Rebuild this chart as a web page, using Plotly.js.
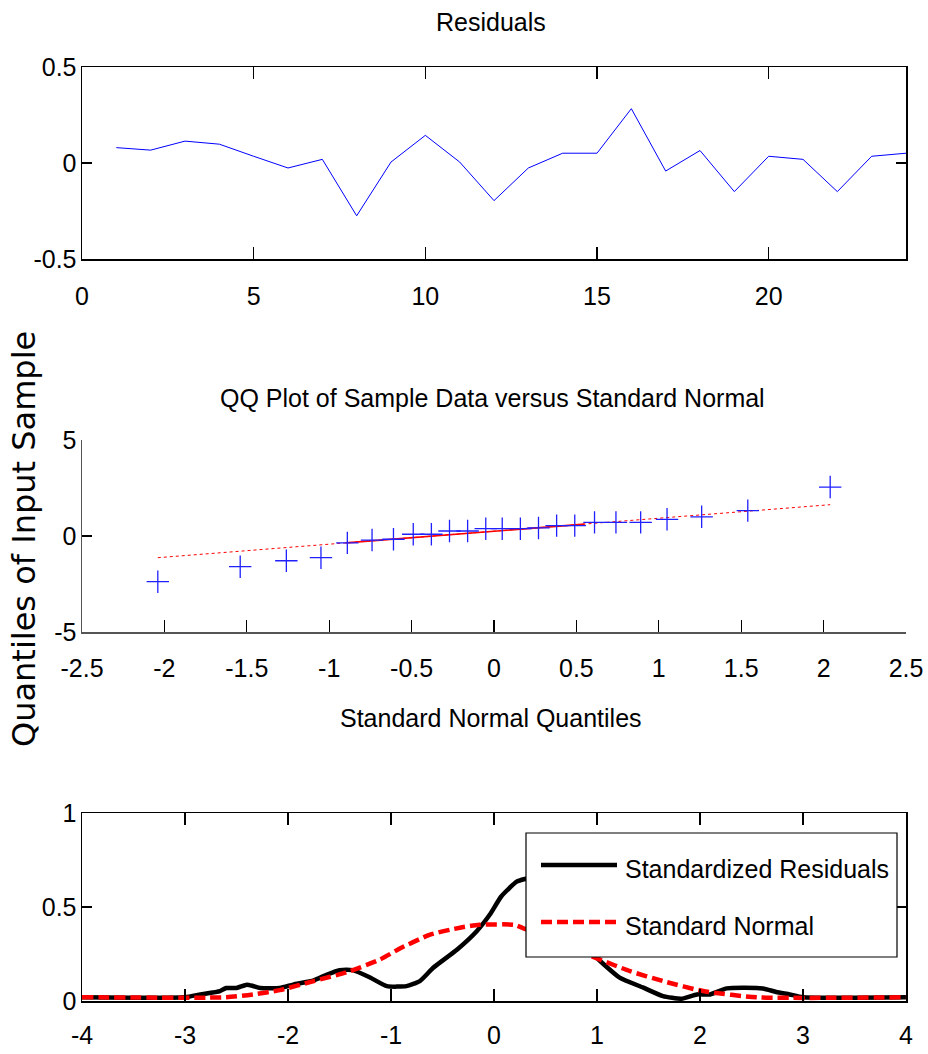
<!DOCTYPE html>
<html>
<head>
<meta charset="utf-8">
<script src="https://cdn.plot.ly/plotly-3.0.1.min.js"></script>
<style>html,body{margin:0;padding:0;background:#fff;}#chart{width:928px;height:1054px;}</style>
</head>
<body>
<div id="chart"></div>
<script>
// ---- Residuals (top panel)
const residIdx = [1,2,3,4,5,6,7,8,9,10,11,12,13,14,15,16,17,18,19,20,21,22,23,24];
const residVal = [0.08,0.067,0.114,0.098,0.035,-0.026,0.019,-0.275,0.005,0.144,0.005,-0.196,-0.026,0.051,0.051,0.283,-0.042,0.065,-0.149,0.035,0.019,-0.149,0.035,0.051];
const topXTicks = [0,5,10,15,20];
const topYTicks = [-0.5,0,0.5];
const topYText = ['-0.5','0','0.5'];

// ---- QQ plot (middle panel)
const qqX = [-2.04,-1.54,-1.26,-1.05,-0.89,-0.74,-0.61,-0.49,-0.38,-0.27,-0.16,-0.05,0.05,0.16,0.27,0.38,0.49,0.61,0.74,0.89,1.05,1.26,1.54,2.04];
const qqY = [-2.38,-1.6,-1.29,-1.13,-0.36,-0.21,-0.17,0.09,0.09,0.26,0.26,0.38,0.38,0.38,0.42,0.54,0.54,0.71,0.71,0.71,0.87,1.0,1.32,2.55];
const qqLineX = [-2.04, 2.04];
const qqLineY = [-1.13, 1.63];
const qqMidX = [-0.9, 0.55];
const qqMidY = [-0.36, 0.62];
const qqXTicks = [-2.5,-2,-1.5,-1,-0.5,0,0.5,1,1.5,2,2.5];
const qqXText = ['-2.5','-2','-1.5','-1','-0.5','0','0.5','1','1.5','2','2.5'];
const qqYTicks = [-5,0,5];
const qqYText = ['-5','0','5'];

// ---- Densities (bottom panel)
const kdeX = [-4,-3.0,-2.85,-2.66,-2.6,-2.5,-2.4,-2.34,-2.27,-2.08,-1.95,-1.75,-1.62,-1.5,-1.37,-1.2,-1.04,-0.85,-0.72,-0.59,-0.36,-0.17,-0.04,0.07,0.22,0.3,0.4,0.5,0.6,0.7,0.8,0.9,1.0,1.22,1.45,1.64,1.82,1.97,2.1,2.26,2.61,2.74,2.87,3.0,4];
const kdeY = [0.02,0.02,0.035,0.053,0.069,0.069,0.087,0.08,0.069,0.069,0.087,0.11,0.141,0.164,0.164,0.124,0.079,0.079,0.106,0.177,0.273,0.37,0.46,0.556,0.635,0.649,0.66,0.66,0.62,0.53,0.42,0.32,0.23,0.124,0.071,0.026,0.012,0.035,0.035,0.067,0.067,0.048,0.035,0.02,0.02];
const normX = [-4,-2.6,-2.34,-2.08,-1.75,-1.43,-1.11,-0.91,-0.62,-0.33,-0.14,0.2,0.28,0.5,0.75,1.03,1.32,1.64,2.03,2.55,4];
const normY = [0.02,0.02,0.035,0.058,0.106,0.153,0.22,0.28,0.353,0.39,0.405,0.405,0.388,0.34,0.28,0.22,0.159,0.106,0.053,0.02,0.02];
const botXTicks = [-4,-3,-2,-1,0,1,2,3,4];
const botXText = ['-4','-3','-2','-1','0','1','2','3','4'];
const botYTicks = [0,0.5,1];
const botYText = ['0','0.5','1'];

// ---- Text
const topTitle = 'Residuals';
const qqTitle = 'QQ Plot of Sample Data versus Standard Normal';
const qqXLabel = 'Standard Normal Quantiles';
const qqYLabel = 'Quantiles of Input Sample';
const legendNames = ['Standardized Residuals', 'Standard Normal'];

const FONT = "'Liberation Sans', Arial, sans-serif";
const FS = 25;

const traces = [
  {x: residIdx, y: residVal, type: 'scatter', mode: 'lines', line: {color: '#0000ff', width: 1}, xaxis: 'x', yaxis: 'y', showlegend: false, hoverinfo: 'skip'},
  {x: qqLineX, y: qqLineY, type: 'scatter', mode: 'lines', line: {color: '#ff0000', width: 1, dash: 'dot'}, xaxis: 'x2', yaxis: 'y2', showlegend: false},
  {x: qqMidX, y: qqMidY, type: 'scatter', mode: 'lines', line: {color: '#ff0000', width: 1.6}, xaxis: 'x2', yaxis: 'y2', showlegend: false},
  {x: qqX, y: qqY, type: 'scatter', mode: 'markers', marker: {symbol: 'cross-thin', size: 16, color: '#0000ff', line: {color: '#2020ff', width: 1.3}}, xaxis: 'x2', yaxis: 'y2', showlegend: false},
  {x: kdeX, y: kdeY, type: 'scatter', mode: 'lines', name: legendNames[0], line: {color: '#000000', width: 4.5, shape: 'spline', smoothing: 0.5}, xaxis: 'x3', yaxis: 'y3', showlegend: false},
  {x: normX, y: normY, type: 'scatter', mode: 'lines', name: legendNames[1], line: {color: '#ff0000', width: 4.5, dash: '11px,5px', shape: 'spline', smoothing: 0.6}, xaxis: 'x3', yaxis: 'y3', showlegend: false}
];

const PX0 = 82, PX1 = 906, PT = 67, PB = 1001;
const W = PX1 - PX0, H = PB - PT;
const px = v => (v - PX0) / W;
const py = v => (PB - v) / H;

const axBase = {
  showgrid: false, zeroline: false, showline: true, linecolor: '#000', linewidth: 1.5,
  ticks: 'inside', ticklen: 12, tickcolor: '#000', tickwidth: 1.2,
  tickfont: {family: FONT, size: FS, color: '#000'}, fixedrange: true
};

const layout = {
  width: 928, height: 1054,
  margin: {l: PX0, r: 928 - PX1, t: PT, b: 1054 - PB},
  paper_bgcolor: '#fff', plot_bgcolor: '#fff',
  showlegend: false,
  font: {family: FONT, size: FS, color: '#000'},
  xaxis: Object.assign({}, axBase, {domain: [0, 1], anchor: 'y', range: [0, 24], tickvals: topXTicks, mirror: 'ticks', ticklabelstandoff: 14}),
  yaxis: Object.assign({}, axBase, {domain: [py(259), 1], anchor: 'x', range: [-0.5, 0.5], tickvals: topYTicks, ticktext: topYText, ticklen: 10, mirror: 'ticks', ticklabelstandoff: -1}),
  xaxis2: Object.assign({}, axBase, {domain: [0, 1], anchor: 'y2', range: [-2.5, 2.5], tickvals: qqXTicks, ticktext: qqXText, linecolor: '#555', ticklabelstandoff: 13}),
  yaxis2: Object.assign({}, axBase, {domain: [py(632), py(440)], anchor: 'x2', range: [-5, 5], tickvals: qqYTicks, ticktext: qqYText, ticklen: 10, linecolor: '#555', ticklabelstandoff: -1}),
  xaxis3: Object.assign({}, axBase, {domain: [0, 1], anchor: 'y3', range: [-4, 4], tickvals: botXTicks, ticktext: botXText, mirror: 'ticks', ticklabelstandoff: 11}),
  yaxis3: Object.assign({}, axBase, {domain: [0, py(813)], anchor: 'x3', range: [0, 1], tickvals: botYTicks, ticktext: botYText, ticklen: 10, mirror: 'ticks', ticklabelstandoff: -1}),
  shapes: [
    {type: 'rect', xref: 'paper', yref: 'paper', x0: px(526), x1: px(897), y0: py(957), y1: py(833), line: {color: '#000', width: 1.2}, fillcolor: '#fff', layer: 'above'},
    {type: 'line', xref: 'paper', yref: 'paper', x0: px(541), x1: px(617), y0: py(865), y1: py(865), line: {color: '#000', width: 4.5}, layer: 'above'},
    {type: 'line', xref: 'paper', yref: 'paper', x0: px(541), x1: px(617), y0: py(922), y1: py(922), line: {color: '#ff0000', width: 4.5, dash: '11px,5px'}, layer: 'above'}
  ],
  annotations: [
    {text: topTitle, xref: 'paper', yref: 'paper', x: px(491), y: py(22), xanchor: 'center', yanchor: 'middle', showarrow: false, font: {family: FONT, size: FS, color: '#000'}},
    {text: qqTitle, xref: 'paper', yref: 'paper', x: px(492), y: py(398), xanchor: 'center', yanchor: 'middle', showarrow: false, font: {family: FONT, size: FS, color: '#000'}},
    {text: qqXLabel, xref: 'paper', yref: 'paper', x: px(491), y: py(718), xanchor: 'center', yanchor: 'middle', showarrow: false, font: {family: FONT, size: FS, color: '#000'}},
    {text: qqYLabel, xref: 'paper', yref: 'paper', x: px(24), y: py(539), xanchor: 'center', yanchor: 'middle', textangle: -90, showarrow: false, font: {family: "'DejaVu Sans', sans-serif", size: 32, color: '#000'}},
    {text: legendNames[0], xref: 'paper', yref: 'paper', x: px(623), y: py(869), xanchor: 'left', yanchor: 'middle', showarrow: false, font: {family: FONT, size: FS, color: '#000'}},
    {text: legendNames[1], xref: 'paper', yref: 'paper', x: px(623), y: py(926), xanchor: 'left', yanchor: 'middle', showarrow: false, font: {family: FONT, size: FS, color: '#000'}}
  ]
};

Plotly.newPlot('chart', traces, layout, {displayModeBar: false, staticPlot: true});
</script>
</body>
</html>
